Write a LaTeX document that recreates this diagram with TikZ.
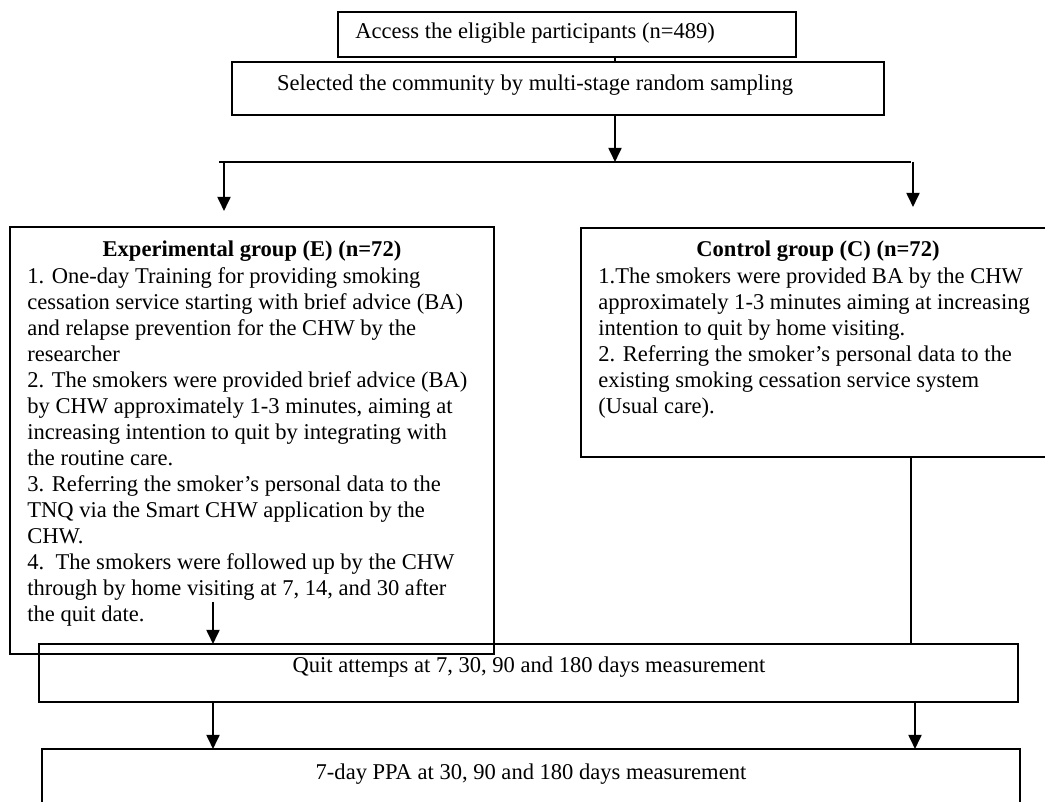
\documentclass[tikz,border=0pt]{standalone}
\usepackage{fontspec}
\setmainfont{Liberation Serif}
\usetikzlibrary{arrows.meta}
\def\pxl{0.55pt}
\tikzset{
  box/.style={draw=black, line width=0.6pt, anchor=north west, inner sep=0pt, outer sep=0pt},
  ln/.style={draw=black, line width=1.1pt},
  arr/.style={ln, -{Triangle[length=7.8pt,width=7.2pt]}},
  txt/.style={font=\fontsize{12.4}{14.3}\selectfont, inner sep=0pt, align=left},
  hd/.style={txt, font=\bfseries\fontsize{12.4}{14.3}\selectfont}
}

\begin{document}
\begin{tikzpicture}[x=0.55pt,y=-0.55pt]
  \useasboundingbox (0,0) rectangle (1045,802);

  % boxes
  \node[box, minimum width=458*\pxl, minimum height=45*\pxl] (acc) at (338,12) {};
  \node[box, minimum width=652*\pxl, minimum height=53*\pxl] (sel) at (232,62) {};
  \node[box, minimum width=484*\pxl, minimum height=427*\pxl] (expE) at (10,227) {};
  \node[box, minimum width=474*\pxl, minimum height=229*\pxl] (ctlC) at (581,228) {};
  \node[box, minimum width=979*\pxl, minimum height=58*\pxl] (quit) at (39,644) {};
  \node[box, minimum width=978*\pxl, minimum height=90*\pxl] (ppa) at (42,749) {};

  % texts
  \node[txt, anchor=west] (accT) at (355,33) {Access the eligible participants (n=489)};
  \node[txt] (selT) at (535,85) {Selected the community by multi-stage random sampling};
  \node[hd] (expH) at (252,251) {Experimental group (E) (n=72)};
  \node[txt, anchor=north west] (expT) at (27,267) {1. One-day Training for providing smoking\\
    cessation service starting with brief advice (BA)\\
    and relapse prevention for the CHW by the\\
    researcher\\
    2. The smokers were provided brief advice (BA)\\
    by CHW approximately 1-3 minutes, aiming at\\
    increasing intention to quit by integrating with\\
    the routine care.\\
    3. Referring the smoker’s personal data to the\\
    TNQ via the Smart CHW application by the\\
    CHW.\\
    4.\ \ The smokers were followed up by the CHW\\
    through by home visiting at 7, 14, and 30 after\\
    the quit date.};
  \node[hd] (ctlH) at (818,251) {Control group (C) (n=72)};
  \node[txt, anchor=north west] (ctlT) at (598,267) {1.The smokers were provided BA by the CHW\\
    approximately 1-3 minutes aiming at increasing\\
    intention to quit by home visiting.\\
    2. Referring the smoker’s personal data to the\\
    existing smoking cessation service system\\
    (Usual care).};
  \node[txt] (quitT) at (529,667) {Quit attemps at 7, 30, 90 and 180 days measurement};
  \node[txt] (ppaT) at (531,774) {7-day PPA at 30, 90 and 180 days measurement};

  % connectors
  \coordinate (split) at (615,162);
  \coordinate (hL) at (219,162);
  \coordinate (hR) at (911,162);
  \coordinate (eTip) at (224,211);
  \coordinate (cTip) at (913,207);
  \coordinate (eOut) at (213,602);
  \coordinate (cx) at (911,0);
  \coordinate (lx) at (213,0);
  \coordinate (rx) at (915,0);

  \draw[ln] (acc.south -| split) -- (sel.north -| split);
  \draw[arr] (sel.south -| split) -- (split);
  \draw[ln] (hL) -- (hR);
  \draw[arr] (eTip |- hL) -- (eTip);
  \draw[arr] (cTip |- hR) -- (cTip);
  \draw[arr] (eOut) -- (eOut |- quit.north);
  \draw[ln] (ctlC.south -| cx) -- (quit.north -| cx);
  \draw[arr] (quit.south -| lx) -- (ppa.north -| lx);
  \draw[arr] (quit.south -| rx) -- (ppa.north -| rx);
\end{tikzpicture}
\end{document}
